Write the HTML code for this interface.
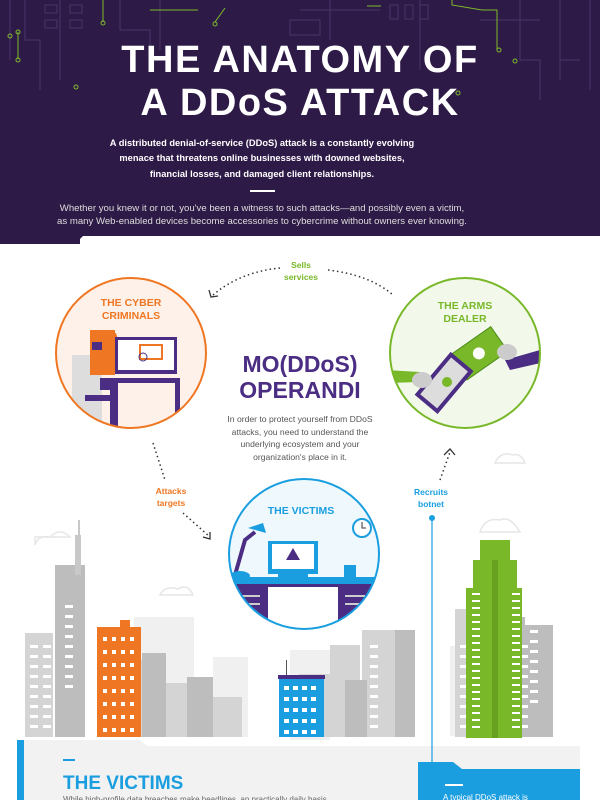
<!DOCTYPE html>
<html><head><meta charset="utf-8"><style>
html,body{margin:0;padding:0;width:600px;height:800px;overflow:hidden;background:#fff;font-family:"Liberation Sans",sans-serif}
</style></head><body>
<svg width="600" height="800" viewBox="0 0 600 800" xmlns="http://www.w3.org/2000/svg" font-family="Liberation Sans, sans-serif">
<rect x="0" y="0" width="600" height="244" fill="#2e1a47"/>
<g stroke="#4a3468" stroke-width="1" fill="none">
<path d="M10 0v60M25 0v40h15v50M60 0v80M120 0v30h30v40M160 0v50M300 10h80M330 0v40M420 0v70M480 20h60M520 0v60h20v40M560 0v80M590 0v90M580 60h-20"/>
<rect x="45" y="5" width="12" height="8"/><rect x="70" y="5" width="12" height="8"/><rect x="45" y="20" width="12" height="8"/><rect x="70" y="20" width="12" height="8"/>
<rect x="390" y="5" width="8" height="14"/><rect x="405" y="5" width="8" height="14"/><rect x="420" y="5" width="8" height="14"/>
<rect x="290" y="20" width="30" height="15"/>
</g>
<g stroke="#7dbb2a" stroke-width="1" fill="none">
<path d="M18 32v27M103 0v22M150 10h48M215 22l10-14M367 6h14M452 0v5l30 5h15v40"/>
<circle cx="18" cy="32" r="2"/><circle cx="18" cy="60" r="2"/><circle cx="103" cy="23" r="2"/><circle cx="76" cy="87" r="2"/><circle cx="215" cy="24" r="2"/><circle cx="499" cy="50" r="2"/><circle cx="458" cy="93" r="2"/><circle cx="515" cy="61" r="2"/><circle cx="10" cy="36" r="2"/>
</g>
<text x="300" y="72" text-anchor="middle" fill="#fff" font-size="38" font-weight="bold" letter-spacing="1.5">THE ANATOMY OF</text>
<text x="300" y="115" text-anchor="middle" fill="#fff" font-size="38" font-weight="bold" letter-spacing="1.5">A DDoS ATTACK</text>
<g fill="#fff" font-size="9.3" font-weight="bold" text-anchor="middle">
<text x="262" y="146">A distributed denial-of-service (DDoS) attack is a constantly evolving</text>
<text x="262" y="161">menace that threatens online businesses with downed websites,</text>
<text x="262" y="177">financial losses, and damaged client relationships.</text>
</g>
<rect x="250" y="190" width="25" height="2" fill="#fff"/>
<g fill="#ddd" font-size="9.6" text-anchor="middle">
<text x="262" y="211">Whether you knew it or not, you've been a witness to such attacks—and possibly even a victim,</text>
<text x="262" y="224">as many Web-enabled devices become accessories to cybercrime without owners ever knowing.</text>
</g>
<path d="M75 244 L83 236 H600 V244Z" fill="#fff"/>
<rect x="0" y="236" width="80" height="8" fill="#2e1a47"/>

<g fill="none" stroke="#e6e6e6" stroke-width="1.5">
<path d="M35 545 q3-10 15-8 q10-10 20 0 h-35z"/><path d="M160 595 q5-10 18-6 q10-6 15 6z"/><path d="M480 532 q5-15 20-12 q10-5 20 12z"/><path d="M495 463 q5-12 18-8 q8-2 12 8z"/>
</g>

<g fill="#f0f0f0"><rect x="134" y="617" width="60" height="120"/><rect x="213" y="657" width="35" height="80"/><rect x="290" y="650" width="40" height="90"/><rect x="450" y="646" width="30" height="90"/></g>
<g fill="#d4d4d4"><rect x="25" y="633" width="28" height="104"/><rect x="124" y="660" width="36" height="77"/><rect x="160" y="683" width="30" height="54"/><rect x="192" y="697" width="50" height="40"/><rect x="283" y="690" width="10" height="47"/><rect x="299" y="674" width="32" height="63"/><rect x="330" y="645" width="30" height="92"/><rect x="362" y="630" width="34" height="107"/><rect x="455" y="609" width="48" height="128"/><rect x="485" y="665" width="30" height="72"/></g>
<g fill="#bdbdbd"><rect x="55" y="565" width="30" height="172"/><rect x="142" y="653" width="24" height="84"/><rect x="187" y="677" width="26" height="60"/><rect x="345" y="680" width="22" height="57"/><rect x="395" y="630" width="20" height="107"/><rect x="503" y="617" width="22" height="120"/><rect x="525" y="625" width="28" height="112"/></g>
<rect x="75" y="535" width="6" height="40" fill="#c8c8c8"/><rect x="78" y="520" width="2" height="20" fill="#c8c8c8"/>
<g fill="#fff"><g id="w">
<rect x="30" y="645" width="8" height="3"/><rect x="30" y="655" width="8" height="3"/><rect x="30" y="665" width="8" height="3"/><rect x="30" y="675" width="8" height="3"/><rect x="30" y="685" width="8" height="3"/><rect x="30" y="695" width="8" height="3"/><rect x="30" y="705" width="8" height="3"/><rect x="30" y="715" width="8" height="3"/><rect x="30" y="725" width="8" height="3"/></g>
<use href="#w" x="13"/><use href="#w" x="35" y="-40"/><use href="#w" x="480" y="-25"/><use href="#w" x="500" y="-25"/><use href="#w" x="340"/><use href="#w" x="400" y="-10"/><use href="#w" x="430"/><use href="#w" x="490"/></g>
<rect x="97" y="627" width="44" height="110" fill="#ef7622"/>
<rect x="120" y="620" width="10" height="8" fill="#ef7622"/>
<g fill="#fff"><g id="o"><rect x="103" y="637" width="4" height="4"/><rect x="103" y="650" width="4" height="4"/><rect x="103" y="663" width="4" height="4"/><rect x="103" y="676" width="4" height="4"/><rect x="103" y="689" width="4" height="4"/><rect x="103" y="702" width="4" height="4"/><rect x="103" y="715" width="4" height="4"/><rect x="103" y="728" width="4" height="4"/></g><use href="#o" x="9"/><use href="#o" x="18"/><use href="#o" x="27"/></g>
<rect x="279" y="677" width="45" height="60" fill="#1a9ee0"/><rect x="278" y="675" width="47" height="4" fill="#4b2e83"/><rect x="286" y="660" width="1" height="15" fill="#555"/>
<g fill="#fff"><g id="b"><rect x="284" y="686" width="5" height="4"/><rect x="284" y="697" width="5" height="4"/><rect x="284" y="708" width="5" height="4"/><rect x="284" y="719" width="5" height="4"/><rect x="284" y="730" width="5" height="4"/></g><use href="#b" x="9"/><use href="#b" x="18"/><use href="#b" x="27"/></g>
<rect x="466" y="588" width="56" height="150" fill="#78b829"/><rect x="473" y="560" width="44" height="40" fill="#78b829"/><rect x="480" y="540" width="30" height="25" fill="#78b829"/><rect x="492" y="560" width="6" height="178" fill="#68a020"/>
<g fill="#fff"><g id="g"><rect x="472" y="593" width="8" height="2"/><rect x="472" y="600" width="8" height="2"/><rect x="472" y="607" width="8" height="2"/><rect x="472" y="614" width="8" height="2"/><rect x="472" y="621" width="8" height="2"/><rect x="472" y="628" width="8" height="2"/><rect x="472" y="635" width="8" height="2"/><rect x="472" y="642" width="8" height="2"/><rect x="472" y="649" width="8" height="2"/><rect x="472" y="656" width="8" height="2"/><rect x="472" y="663" width="8" height="2"/><rect x="472" y="670" width="8" height="2"/><rect x="472" y="677" width="8" height="2"/><rect x="472" y="684" width="8" height="2"/><rect x="472" y="691" width="8" height="2"/><rect x="472" y="698" width="8" height="2"/><rect x="472" y="705" width="8" height="2"/><rect x="472" y="712" width="8" height="2"/><rect x="472" y="719" width="8" height="2"/><rect x="472" y="726" width="8" height="2"/></g><use href="#g" x="40"/></g>

<path d="M17 740 H140 L147 746 H580 V800 H17Z" fill="#f2f2f2"/>
<rect x="17" y="740" width="7" height="60" fill="#1a9ee0"/>
<rect x="63" y="759" width="12" height="2" fill="#1a9ee0"/>
<text x="63" y="789" fill="#1a9ee0" font-size="19" font-weight="bold">THE VICTIMS</text>
<text x="63" y="802" fill="#666" font-size="8">While high-profile data breaches make headlines, an practically daily basis</text>
<path d="M418 800 V762 H453 L462 769 H580 V800Z" fill="#1a9ee0"/>
<rect x="445" y="784" width="18" height="2" fill="#fff"/>
<text x="443" y="800" fill="#fff" font-size="8">A typical DDoS attack is</text>
<line x1="432" y1="520" x2="432" y2="762" stroke="#1a9ee0" stroke-width="1.2"/>
<circle cx="432" cy="518" r="3" fill="#1a9ee0"/>

<g fill="none" stroke="#333" stroke-width="1.5" stroke-dasharray="1.5 3">
<path d="M280 268 Q240 272 213 295"/><path d="M328 270 Q370 275 393 295"/>
<path d="M153 443 L165 480"/><path d="M183 513 L210 537"/>
<path d="M440 480 L450 452"/>
</g>
<path d="M209 290 L211 297 L218 296" fill="none" stroke="#333" stroke-width="1.3"/>
<path d="M203 537 L210 539 L210 532" fill="none" stroke="#333" stroke-width="1.3"/>
<path d="M444 455 L450 449 L455 455" fill="none" stroke="#333" stroke-width="1.3"/>
<text x="301" y="268" text-anchor="middle" fill="#78b829" font-size="8.5" font-weight="bold">Sells</text>
<text x="301" y="280" text-anchor="middle" fill="#78b829" font-size="8.5" font-weight="bold">services</text>
<text x="171" y="494" text-anchor="middle" fill="#ef7622" font-size="8.5" font-weight="bold">Attacks</text>
<text x="171" y="506" text-anchor="middle" fill="#ef7622" font-size="8.5" font-weight="bold">targets</text>
<text x="431" y="495" text-anchor="middle" fill="#1a9ee0" font-size="8.5" font-weight="bold">Recruits</text>
<text x="431" y="507" text-anchor="middle" fill="#1a9ee0" font-size="8.5" font-weight="bold">botnet</text>

<text x="300" y="372" text-anchor="middle" fill="#4b2e83" font-size="23" font-weight="bold">MO(DDoS)</text>
<text x="300" y="398" text-anchor="middle" fill="#4b2e83" font-size="23" font-weight="bold">OPERANDI</text>
<g fill="#555" font-size="8.6" text-anchor="middle">
<text x="300" y="422">In order to protect yourself from DDoS</text>
<text x="300" y="435">attacks, you need to understand the</text>
<text x="300" y="447">underlying ecosystem and your</text>
<text x="300" y="460">organization's place in it.</text>
</g>

<clipPath id="c1"><circle cx="131" cy="353" r="75"/></clipPath>
<circle cx="131" cy="353" r="75" fill="#fdf1ea"/>
<g clip-path="url(#c1)">
<rect x="72" y="355" width="30" height="80" fill="#ddd"/>
<rect x="90" y="330" width="25" height="45" fill="#ef7622"/>
<circle cx="103" cy="344" r="10" fill="#ef7622"/><path d="M90 340 h28 l-2 -7 h-24z" fill="#ef7622"/>
<rect x="92" y="342" width="10" height="8" fill="#4b2e83"/>
<rect x="115" y="337" width="62" height="37" fill="#4b2e83"/><rect x="118" y="340" width="56" height="30" fill="#fff"/>
<rect x="140" y="345" width="22" height="14" fill="none" stroke="#ef7622" stroke-width="2"/>
<circle cx="143" cy="357" r="4" fill="none" stroke="#4b2e83"/>
<rect x="100" y="378" width="80" height="5" fill="#4b2e83"/><rect x="175" y="383" width="5" height="50" fill="#4b2e83"/>
<rect x="110" y="385" width="8" height="45" fill="#4b2e83"/><rect x="100" y="380" width="18" height="10" fill="#4b2e83"/>
<rect x="85" y="395" width="25" height="6" fill="#4b2e83"/>
</g>
<circle cx="131" cy="353" r="75" fill="none" stroke="#ef7622" stroke-width="2"/>
<text x="131" y="306" text-anchor="middle" fill="#ef7622" font-size="10.5" font-weight="bold">THE CYBER</text>
<text x="131" y="319" text-anchor="middle" fill="#ef7622" font-size="10.5" font-weight="bold">CRIMINALS</text>

<clipPath id="c2"><circle cx="465" cy="353" r="75"/></clipPath>
<circle cx="465" cy="353" r="75" fill="#f2f9ea"/>
<g clip-path="url(#c2)">
<path d="M385 370 L420 372 L420 382 L385 383Z" fill="#78b829"/>
<path d="M505 360 L540 350 L545 362 L510 370Z" fill="#4b2e83"/>
<g transform="rotate(-35 480 355)"><rect x="455" y="338" width="50" height="30" fill="#78b829" stroke="#4b8a1a"/><circle cx="480" cy="353" r="6" fill="#fff"/></g>
<g transform="rotate(40 445 385)"><rect x="430" y="358" width="26" height="52" fill="#ddd" stroke="#4b2e83" stroke-width="4"/></g>
<circle cx="447" cy="382" r="5" fill="#78b829"/>
<ellipse cx="422" cy="380" rx="10" ry="8" fill="#ccc"/><ellipse cx="507" cy="352" rx="10" ry="8" fill="#ccc"/>
</g>
<circle cx="465" cy="353" r="75" fill="none" stroke="#78b829" stroke-width="2"/>
<text x="465" y="309" text-anchor="middle" fill="#78b829" font-size="10.5" font-weight="bold">THE ARMS</text>
<text x="465" y="322" text-anchor="middle" fill="#78b829" font-size="10.5" font-weight="bold">DEALER</text>

<clipPath id="c3"><circle cx="304" cy="554" r="75"/></clipPath>
<circle cx="304" cy="554" r="75" fill="#eef8fd"/>
<g clip-path="url(#c3)">
<rect x="228" y="583" width="152" height="50" fill="#4b2e83"/>
<rect x="268" y="587" width="70" height="50" fill="#fff"/>
<rect x="240" y="595" width="20" height="2" fill="#ccc"/><rect x="240" y="603" width="20" height="2" fill="#ccc"/><rect x="345" y="595" width="20" height="2" fill="#ccc"/><rect x="345" y="603" width="20" height="2" fill="#ccc"/>
<rect x="228" y="577" width="152" height="7" fill="#1a9ee0"/>
<rect x="268" y="541" width="50" height="33" fill="#1a9ee0"/><rect x="272" y="544" width="42" height="25" fill="#fff"/>
<path d="M293 548 L300 560 H286Z" fill="#4b2e83"/>
<rect x="278" y="574" width="30" height="4" fill="#1a9ee0"/>
<path d="M235 575 L245 540 L255 532" stroke="#4b2e83" stroke-width="4" fill="none"/>
<path d="M248 528 l15 -5 l3 10z" fill="#1a9ee0"/>
<ellipse cx="240" cy="576" rx="10" ry="5" fill="#1a9ee0"/>
<rect x="344" y="565" width="12" height="12" fill="#1a9ee0"/>
</g>
<circle cx="304" cy="554" r="75" fill="none" stroke="#1a9ee0" stroke-width="2"/>
<circle cx="362" cy="528" r="9" fill="#fff" stroke="#1a9ee0" stroke-width="2"/>
<path d="M362 522 v6 h4" stroke="#333" fill="none"/>
<text x="301" y="514" text-anchor="middle" fill="#1a9ee0" font-size="10.5" font-weight="bold">THE VICTIMS</text>
</svg>
</body></html>
